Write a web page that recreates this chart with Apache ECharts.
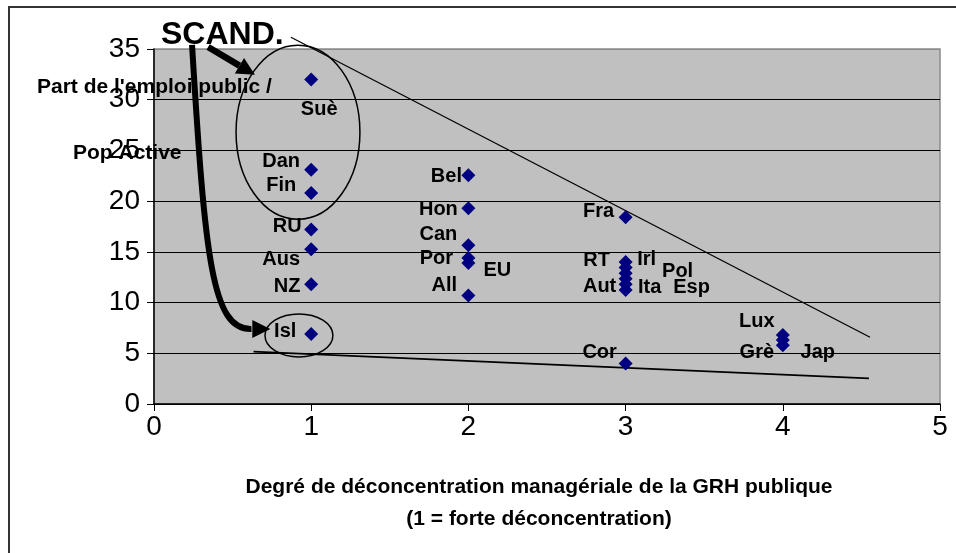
<!DOCTYPE html>
<html><head><meta charset="utf-8">
<script src="https://cdn.jsdelivr.net/npm/echarts@6/dist/echarts.min.js"></script>
<style>html,body{margin:0;padding:0;background:#fff}#c{width:956px;height:553px}</style>
</head><body><div id="c"></div>
<script>
// ---- data ----
const countries = ['Suè','Dan','Fin','RU','Aus','NZ','Isl','Bel','Hon','Can','Por','EU','All','Fra','RT','Irl','Pol','Esp','Ita','Aut','Cor','Lux','Jap','Grè'];
const xValues   = [1,1,1,1,1,1,1, 2,2,2,2,2,2, 3,3,3,3,3,3,3,3, 4,4,4];
const yValues   = [32.0,23.1,20.8,17.2,15.25,11.8,6.9, 22.55,19.3,15.65,14.4,13.9,10.7, 18.4,14.0,13.45,12.9,12.35,11.8,11.25,4.0, 6.8,6.3,5.8];
const xTicks = [0,1,2,3,4,5];
const yTicks = [0,5,10,15,20,25,30,35];
// trend lines (data space)
const upperLine = [[0.871,36.16],[4.555,6.58]];
const lowerLine = [[0.633,5.16],[4.548,2.53]];

// ---- label placement (pixel offsets from each point) ----
const labelOffsets = [[8,30],[-30,-8],[-30,-8],[-24,-3],[-30,10],[-24,2],[-26,-3],
  [-22,1],[-30,1],[-30,-11],[-32,1],[29,7],[-24,-10],
  [-27,-6],[-29,-2],[21,-8],[52,-2],[66,9],[24,3],[-26,-3],[-26,-11],
  [-26,-14],[35,12],[-26,7]];

const FONT = '"Liberation Sans", Arial, sans-serif';
const chart = echarts.init(document.getElementById('c'));

const points = countries.map((n,i)=>({
  name:n, value:[xValues[i], yValues[i]],
  label:{offset:labelOffsets[i]}
}));

chart.setOption({
  animation:false,
  backgroundColor:'#fff',
  grid:{left:154,right:16,top:49,bottom:149,show:true,backgroundColor:'#C0C0C0',borderColor:'#8a8a8a',borderWidth:1.5},
  xAxis:{type:'value',min:xTicks[0],max:xTicks[xTicks.length-1],interval:1,
    axisLine:{show:true,onZero:false,lineStyle:{color:'#000',width:1.5}},
    axisTick:{show:true,length:7,lineStyle:{color:'#000'}},
    axisLabel:{fontSize:28,color:'#000',fontFamily:FONT,margin:9},
    splitLine:{show:false}},
  yAxis:{type:'value',min:yTicks[0],max:yTicks[yTicks.length-1],interval:5,
    axisLine:{show:true,onZero:false,lineStyle:{color:'#000',width:1.5}},
    axisTick:{show:true,length:7,lineStyle:{color:'#000'}},
    axisLabel:{fontSize:28,color:'#000',fontFamily:FONT,margin:14},
    splitLine:{show:true,lineStyle:{color:['#000','#000','#000','#000','#000','#000','#000','#8a8a8a'],width:1}}},
  series:[
    {type:'line',data:upperLine,showSymbol:false,symbol:'none',clip:false,lineStyle:{color:'#000',width:1.3},z:3},
    {type:'line',data:lowerLine,showSymbol:false,symbol:'none',clip:false,lineStyle:{color:'#000',width:1.8},z:3},
    {type:'scatter',data:points,symbol:'diamond',symbolSize:14,clip:false,
      itemStyle:{color:'#000080',opacity:1},z:4,
      label:{show:true,position:'inside',formatter:'{b}',color:'#000',opacity:1,fontSize:20,fontWeight:'bold',fontFamily:FONT,align:'center',verticalAlign:'middle',textBorderWidth:0,textBorderColor:'transparent',textShadowBlur:0}}
  ]
});

// ---- annotations (anchored in data space) ----
const toPx = p => chart.convertToPixel({gridIndex:0}, p);
function ellipse(c, rx, ry){
  const pc = toPx(c), pr = toPx([c[0]+rx, c[1]+ry]);
  return {type:'ellipse',z:50,shape:{cx:pc[0],cy:pc[1],rx:pr[0]-pc[0],ry:pc[1]-pr[1]},style:{fill:'none',stroke:'#000',lineWidth:1.5}};
}
function head(tip, from, L, W){
  const dx=tip[0]-from[0], dy=tip[1]-from[1], d=Math.hypot(dx,dy), ux=dx/d, uy=dy/d;
  const bx=tip[0]-ux*L, by=tip[1]-uy*L;
  return {base:[bx,by], el:{type:'polygon',z:60,shape:{points:[tip,[bx-uy*W/2,by+ux*W/2],[bx+uy*W/2,by-ux*W/2]]},style:{fill:'#000'}}};
}
const a1s = toPx([0.344,35.2]), a1t = toPx([0.642,32.45]);
const h1 = head(a1t, a1s, 18, 18);
const c0 = toPx([0.242,35.4]), c1 = toPx([0.325,14.2]), c2 = toPx([0.37,7.3]), c3 = toPx([0.62,7.4]), ct = toPx([0.74,7.4]);
const h2 = head(ct, c3, 18, 18);

const txt = (t, x, y, size, align) => ({type:'text',z:70,style:{text:t,x:x,y:y,font:'bold '+size+'px '+FONT,fill:'#000',align:align,textAlign:align,verticalAlign:'middle',textVerticalAlign:'middle'}});

chart.setOption({graphic:[
  {type:'rect',z:1,shape:{x:9,y:7,width:1000,height:620},style:{fill:'none',stroke:'#333',lineWidth:2}},
  ellipse([0.916,26.8],0.394,8.58),
  ellipse([0.922,6.76],0.216,2.12),
  {type:'line',z:60,shape:{x1:a1s[0],y1:a1s[1],x2:h1.base[0],y2:h1.base[1]},style:{stroke:'#000',lineWidth:6.5}},
  h1.el,
  {type:'bezierCurve',z:60,shape:{x1:c0[0],y1:c0[1],cpx1:c1[0],cpy1:c1[1],cpx2:c2[0],cpy2:c2[1],x2:c3[0],y2:c3[1]},style:{fill:'none',stroke:'#000',lineWidth:6}},
  h2.el,
  txt('SCAND.',161,35,32,'left'),
  txt("Part de l'emploi public /",37,87,21,'left'),
  txt('Pop Active',73,153,21,'left'),
  txt('Degré de déconcentration managériale de la GRH publique',539,487,21,'center'),
  txt('(1 = forte déconcentration)',539,519,21,'center')
]});
</script></body></html>
